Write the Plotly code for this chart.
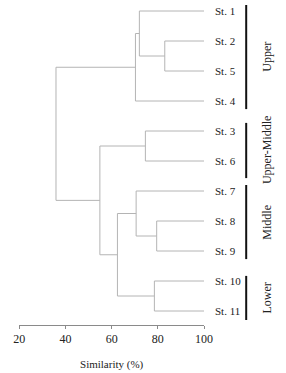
import plotly.graph_objects as go

# ---- data ----
leaf_labels = ["St. 1", "St. 2", "St. 5", "St. 4", "St. 3", "St. 6",
               "St. 7", "St. 8", "St. 9", "St. 10", "St. 11"]
# merges (scipy style: leaves are 0..10, merge k gets id 11+k)
merge_left = [1, 0, 12, 4, 7, 6, 9, 16, 14, 13]
merge_right = [2, 11, 3, 5, 8, 15, 10, 17, 18, 19]
merge_similarity = [83.0, 72.0, 70.3, 74.6, 79.5, 70.6, 78.5, 62.5, 54.9, 35.9]

group_names = ["Upper", "Upper-Middle", "Middle", "Lower"]
group_start = [-0.2, 3.73, 5.8, 8.83]   # in leaf-row units
group_end = [3.27, 5.57, 8.27, 10.3]

x_ticks = [20, 40, 60, 80, 100]

# ---- geometry helpers ----
W, H = 286, 373
n = len(leaf_labels)
height = {i: 100.0 for i in range(n)}
ypos = {i: float(i) for i in range(n)}
for k, (a, b, s) in enumerate(zip(merge_left, merge_right, merge_similarity)):
    height[n + k] = s
    ypos[n + k] = (ypos[a] + ypos[b]) / 2

line_color = "#b4b4b4"
fig = go.Figure()
for k, (a, b, s) in enumerate(zip(merge_left, merge_right, merge_similarity)):
    fig.add_trace(go.Scatter(
        x=[height[a], s, s, height[b]],
        y=[ypos[a], ypos[a], ypos[b], ypos[b]],
        xaxis="x", yaxis="y",
        mode="lines", line=dict(color=line_color, width=1),
        hoverinfo="skip", showlegend=False))

# group bars on a pixel-like full-width axis
bar_x = 253.5
for g, s0, s1 in zip(group_names, group_start, group_end):
    fig.add_trace(go.Scatter(
        x=[bar_x, bar_x], y=[s0, s1], xaxis="x2", yaxis="y",
        mode="lines", line=dict(color="#111111", width=2),
        hoverinfo="skip", showlegend=False))

annotations = []
for i, lab in enumerate(leaf_labels):
    annotations.append(dict(
        x=100, y=ypos[i], xref="x", yref="y", text=lab, showarrow=False,
        xanchor="left", yanchor="middle", xshift=9,
        font=dict(family="Liberation Serif", size=11, color="#222222")))
for g, s0, s1 in zip(group_names, group_start, group_end):
    annotations.append(dict(
        x=275, y=(s0 + s1) / 2, xref="x2", yref="y", text=g, showarrow=False,
        textangle=-90, xanchor="center", yanchor="middle",
        font=dict(family="Liberation Serif", size=12, color="#222222")))

# y mapping: leaf i at pixel 11 + 30*i; plot bottom at pixel 325
top_px, bottom_px = 0, 325
y_lo = (top_px - 11) / 30
y_hi = (bottom_px - 11) / 30
l_px, r_px = 14, 209

fig.update_layout(
    width=W, height=H,
    margin=dict(l=0, r=0, t=top_px, b=H - bottom_px),
    paper_bgcolor="white", plot_bgcolor="rgba(0,0,0,0)",
    annotations=annotations,
    xaxis=dict(domain=[l_px / W, r_px / W], range=[20, 100], tickvals=x_ticks,
               ticktext=[str(v) for v in x_ticks],
               showgrid=False, zeroline=False, showline=True,
               linecolor="#8a8a8a", linewidth=1,
               ticks="outside", ticklen=3, tickcolor="#8a8a8a", tickwidth=1,
               tickfont=dict(family="Liberation Serif", size=12, color="#222222"),
               title=dict(text="Similarity (%)", standoff=14,
                          font=dict(family="Liberation Serif", size=11, color="#222222")),
               fixedrange=True),
    xaxis2=dict(domain=[0, 1], range=[0, W], visible=False, anchor="y", fixedrange=True),
    yaxis=dict(range=[y_hi, y_lo], visible=False, fixedrange=True),
)

fig.write_html("out.html")
